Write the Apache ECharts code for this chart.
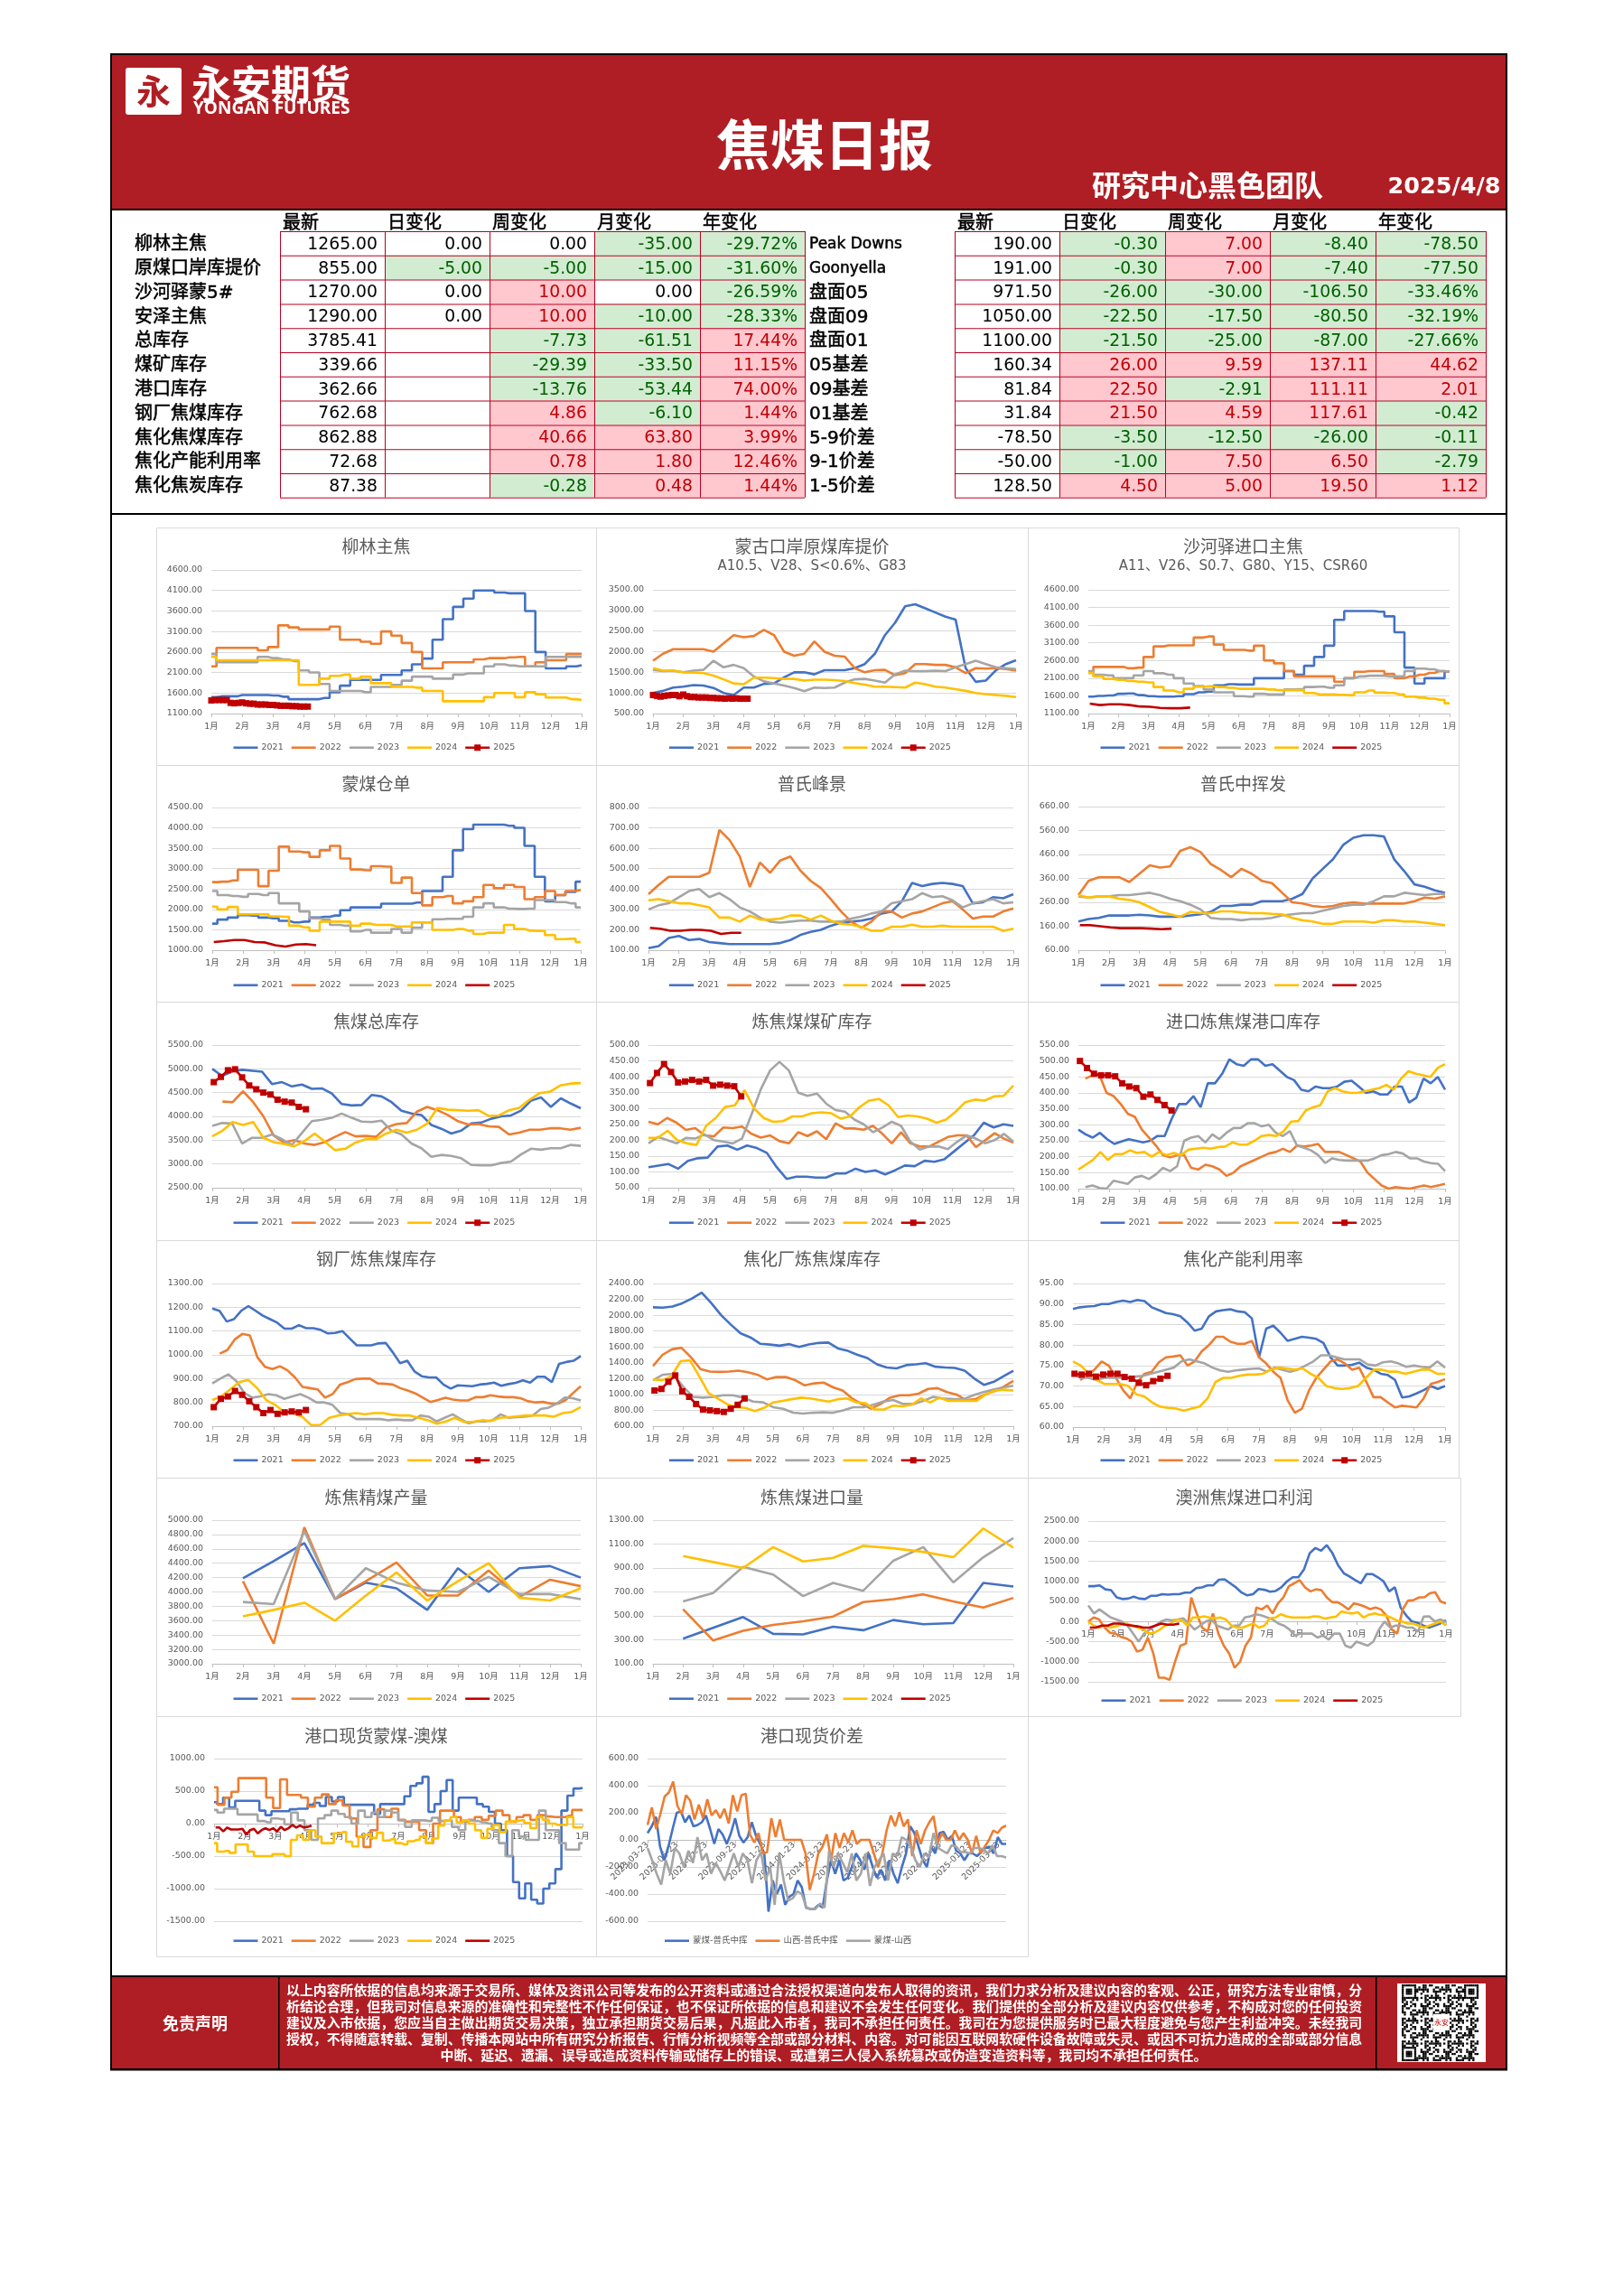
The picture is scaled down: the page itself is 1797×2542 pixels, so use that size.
<!DOCTYPE html>
<html><head><meta charset="utf-8"><title>焦煤日报</title>
<script src="https://cdn.jsdelivr.net/npm/echarts@6/dist/echarts.min.js"></script>
<style>html,body{margin:0;padding:0;background:#fff}#c{width:1797px;height:2542px}</style></head>
<body><div id="c"></div>
<script>
const monthLabels=['1月','2月','3月','4月','5月','6月','7月','8月','9月','10月','11月','12月','1月'];
const dateLabels=['2023-03-23','2023-05-23','2023-07-23','2023-09-23','2023-11-23','2024-01-23','2024-03-23','2024-05-23','2024-07-23','2024-09-23','2024-11-23','2025-01-23','2025-03-23'];
const years=['2021','2022','2023','2024','2025'];
const spreadNames=['蒙煤-普氏中挥','山西-普氏中挥','蒙煤-山西'];

const colHeads=['最新','日变化','周变化','月变化','年变化'];
const leftLabels=['柳林主焦','原煤口岸库提价','沙河驿蒙5#','安泽主焦','总库存','煤矿库存','港口库存','钢厂焦煤库存','焦化焦煤库存','焦化产能利用率','焦化焦炭库存'];
const leftLatest=['1265.00','855.00','1270.00','1290.00','3785.41','339.66','362.66','762.68','862.88','72.68','87.38'];
const leftDay=['0.00','-5.00','0.00','0.00','','','','','','',''];
const leftWeek=['0.00','-5.00','10.00','10.00','-7.73','-29.39','-13.76','4.86','40.66','0.78','-0.28'];
const leftMonth=['-35.00','-15.00','0.00','-10.00','-61.51','-33.50','-53.44','-6.10','63.80','1.80','0.48'];
const leftYear=['-29.72%','-31.60%','-26.59%','-28.33%','17.44%','11.15%','74.00%','1.44%','3.99%','12.46%','1.44%'];
const rightLabels=['Peak Downs','Goonyella','盘面05','盘面09','盘面01','05基差','09基差','01基差','5-9价差','9-1价差','1-5价差'];
const rightLatest=['190.00','191.00','971.50','1050.00','1100.00','160.34','81.84','31.84','-78.50','-50.00','128.50'];
const rightDay=['-0.30','-0.30','-26.00','-22.50','-21.50','26.00','22.50','21.50','-3.50','-1.00','4.50'];
const rightWeek=['7.00','7.00','-30.00','-17.50','-25.00','9.59','-2.91','4.59','-12.50','7.50','5.00'];
const rightMonth=['-8.40','-7.40','-106.50','-80.50','-87.00','137.11','111.11','117.61','-26.00','6.50','19.50'];
const rightYear=['-78.50','-77.50','-33.46%','-32.19%','-27.66%','44.62','2.01','-0.42','-0.11','-2.79','1.12'];

const liulinTicks=[1100,1600,2100,2600,3100,3600,4100,4600];
const liulin2021=[1500,1520,1520,1550,1550,1550,1540,1510,1450,1450,1450,1480,1620,1780,1920,1920,1920,2040,2040,2150,2300,2440,2900,3400,3700,3900,4100,4100,4050,4030,4030,3600,2600,2200,2200,2250,2280];
const liulin2022=[2250,2700,2700,2700,2700,2640,2720,3250,3200,3150,3150,3150,3220,2900,2900,2850,2800,3100,3000,2820,2600,2200,2200,2350,2350,2350,2420,2450,2450,2470,2480,2250,2350,2400,2400,2550,2550];
const liulin2023=[2550,2350,2350,2350,2350,2480,2450,2420,2380,2150,2100,1820,1650,1650,1650,1620,1750,1750,1800,1900,2000,2000,1950,1950,2050,2080,2080,2250,2300,2270,2250,2250,2250,2480,2480,2480,2480];
const liulin2024=[2480,2400,2400,2400,2400,2400,2400,2400,2400,1800,1800,1950,2020,2050,1950,2000,1840,1840,1750,1750,1730,1650,1650,1400,1400,1400,1400,1500,1600,1600,1500,1620,1570,1490,1490,1450,1430];
const liulin2025=[1420,1430,1430,1430,1430,1360,1350,1360,1370,1350,1340,1340,1320,1320,1320,1310,1310,1300,1290,1290,1290,1280,1280,1270,1270,1270];

const mengguTicks=[500,1000,1500,2000,2500,3000,3500];
const menggu2021=[1000,1050,1130,1150,1190,1180,1120,1000,950,1130,1130,1220,1230,1380,1500,1500,1450,1550,1550,1550,1600,1700,1950,2400,2700,3100,3150,3050,2950,2850,2780,1600,1270,1300,1550,1700,1790];
const menggu2022=[1780,1950,2060,2060,2060,2060,2000,2200,2400,2350,2380,2530,2400,2000,1900,1950,2250,2000,1900,1880,1600,1500,1550,1560,1430,1480,1700,1700,1680,1680,1620,1480,1600,1590,1600,1580,1540];
const menggu2023=[1560,1530,1540,1500,1540,1560,1780,1620,1680,1600,1400,1280,1230,1180,1120,1040,1130,1120,1130,1250,1330,1340,1300,1250,1450,1540,1530,1530,1540,1530,1620,1700,1780,1700,1620,1600,1580];
const menggu2024=[1600,1540,1540,1500,1490,1480,1420,1330,1230,1210,1370,1370,1360,1340,1340,1300,1320,1320,1310,1290,1240,1200,1150,1150,1140,1130,1250,1210,1150,1130,1090,1050,1000,970,950,930,900];
const menggu2025=[950,930,910,930,940,950,950,920,960,920,900,900,890,890,890,880,880,870,870,860,870,860,870,860,860,860];

const shaheTicks=[1100,1600,2100,2600,3100,3600,4100,4600];
const shahe2021=[1580,1600,1610,1660,1670,1620,1590,1580,1580,1590,1650,1700,1720,1900,1930,1920,1920,2100,2100,2100,2300,2200,2450,2700,3020,3750,4000,4000,4000,3980,3850,3400,2400,1950,2100,2100,2280];
const shahe2022=[2250,2420,2420,2420,2380,2400,2700,3000,3030,3030,3030,3250,3280,3050,2900,2900,2880,3020,2600,2520,2300,2150,2150,2150,2150,2000,2100,2280,2300,2300,2220,2100,2150,2200,2250,2300,2280];
const shahe2023=[2300,2200,2180,2100,2100,2180,2300,2240,2200,2100,1950,1880,1780,1700,1700,1590,1580,1660,1640,1640,1780,1790,1850,1860,1830,1900,2100,2150,2170,2170,2150,2150,2300,2370,2350,2300,2280];
const shahe2024=[2250,2150,2080,2050,2020,2000,1980,1850,1750,1700,1800,1860,1870,1850,1830,1800,1800,1800,1780,1760,1760,1760,1680,1640,1640,1630,1620,1700,1750,1690,1680,1640,1580,1550,1520,1490,1390];
const shahe2025=[1380,1340,1360,1360,1340,1300,1290,1260,1250,1250,1270];

const cangdanTicks=[1000,1500,2000,2500,3000,3500,4000,4500];
const cangdan2021=[1650,1750,1800,1860,1850,1800,1780,1720,1680,1700,1800,1820,1850,1980,2050,2050,2050,2140,2140,2140,2170,2450,2450,2800,3450,3970,4080,4080,4080,4050,4000,3560,2800,2200,2350,2430,2680];
const cangdan2022=[2670,2680,2710,2970,2970,2570,2950,3540,3420,3400,3290,3450,3560,3250,2980,2960,3060,3050,2650,2780,2400,2100,2300,2330,2150,2200,2300,2600,2520,2600,2550,2250,2300,2450,2350,2450,2480];
const cangdan2023=[2450,2350,2330,2310,2380,2350,2400,2150,2150,1950,1780,1750,1620,1600,1460,1500,1430,1430,1520,1430,1550,1680,1760,1770,1770,1820,2050,2150,2050,2020,2010,2020,2230,2230,2180,2150,2050];
const cangdan2024=[2070,2000,2060,1880,1880,1880,1830,1820,1600,1560,1480,1700,1700,1700,1600,1650,1620,1620,1580,1580,1680,1680,1500,1500,1520,1480,1400,1430,1430,1620,1520,1480,1470,1370,1270,1280,1200];
const cangdan2025=[1200,1220,1250,1250,1200,1190,1120,1090,1140,1150,1120];

const peakTicks=[100,200,300,400,500,600,700,800];
const peak2021=[110,120,160,170,150,155,140,135,130,130,130,130,130,135,150,175,190,200,220,235,240,245,255,280,290,340,430,415,425,430,425,415,330,335,360,355,375];
const peak2022=[375,420,460,460,460,460,480,690,640,560,410,530,480,540,560,490,440,405,350,290,240,210,240,290,290,260,280,290,310,330,340,300,255,265,265,290,305];
const peak2023=[300,320,330,360,390,400,360,380,350,310,290,260,240,235,240,245,245,240,240,240,255,265,280,290,330,340,350,380,360,365,345,310,330,340,350,330,335];
const peak2024=[345,350,340,330,330,320,310,260,260,240,270,250,250,255,270,270,250,270,245,230,225,215,195,195,215,215,225,215,215,220,215,215,215,215,215,195,205];
const peak2025=[210,205,195,195,200,200,195,180,185,185];

const midVolTicks=[60,160,260,360,460,560,660];
const midVol2021=[180,190,195,205,205,205,208,205,200,200,200,205,210,220,245,245,250,250,265,265,265,275,295,360,400,440,500,530,540,540,535,440,390,335,325,310,300];
const midVol2022=[290,350,365,365,365,345,380,415,405,410,475,490,470,420,395,365,400,380,350,340,300,260,255,245,240,245,255,260,255,255,255,255,255,265,280,275,285];
const midVol2023=[285,280,285,285,290,290,295,300,290,275,265,250,230,195,190,190,185,190,190,195,205,210,215,215,225,235,245,250,250,265,285,285,300,295,290,295,295];
const midVol2024=[290,280,285,285,275,270,260,240,220,210,200,220,215,215,222,222,218,215,215,212,210,195,185,180,170,170,180,180,180,175,185,185,180,180,175,170,165];
const midVol2025=[165,165,160,155,152,152,152,150,148,150];

const totalTicks=[2500,3000,3500,4000,4500,5000,5500];
const total2021=[5000,4850,4950,4980,4960,4940,4680,4720,4630,4670,4580,4590,4480,4260,4230,4240,4450,4420,4300,4120,4060,4030,3820,3740,3640,3700,3850,3870,3950,4000,4020,4120,4330,4400,4200,4380,4270,4170];
const total2022=[null,4310,4300,4530,4300,4000,3600,3450,3500,3430,3400,3460,3570,3670,3580,3590,3570,3770,3840,3860,4100,4200,4130,4030,3900,3830,3840,3790,3780,3620,3660,3720,3720,3750,3750,3720,3760];
const total2023=[3800,3860,3850,3430,3550,3550,3620,3520,3400,3650,3900,3930,3970,4060,3970,3890,3880,3910,3700,3620,3430,3330,3150,3190,3170,3120,2980,2970,2970,3020,3050,3200,3320,3300,3330,3330,3400,3380];
const total2024=[3580,3700,3880,3820,3880,3550,3460,3420,3370,3480,3640,3470,3290,3320,3450,3520,3520,3640,3720,3660,3720,3850,4180,4140,4130,4120,4130,4010,4020,4130,4180,4350,4490,4520,4650,4690,4700];
const total2025=[4720,4830,4970,4990,4820,4650,4570,4500,4460,4350,4310,4290,4200,4150];

const mineTicks=[50,100,150,200,250,300,350,400,450,500];
const mine2021=[115,120,125,110,135,143,145,180,183,170,183,175,160,115,78,85,85,82,82,95,95,110,100,105,92,105,120,118,135,132,140,165,190,215,255,240,250,245];
const mine2022=[258,250,270,255,232,238,215,212,240,238,243,220,208,215,197,190,225,213,228,203,253,237,237,233,245,220,190,225,190,180,180,195,210,215,215,178,200,222,205,192];
const mine2023=[190,210,200,190,207,205,218,200,195,190,205,280,360,420,447,420,350,340,347,315,295,290,265,250,225,240,258,245,195,170,180,180,172,195,215,205,190,200,220,195];
const mine2024=[207,208,230,200,190,185,245,270,305,310,358,300,270,258,260,275,275,285,288,285,268,275,305,325,330,310,273,278,275,268,255,265,290,320,328,325,338,340,372];
const mine2025=[380,412,440,415,382,385,390,385,390,372,375,372,370,338];

const portTicks=[100,150,200,250,300,350,400,450,500,550];
const port2021=[285,270,260,275,255,240,248,255,250,245,250,265,265,320,365,365,390,355,430,430,460,505,490,485,505,505,485,490,470,450,440,410,405,420,415,415,420,435,438,420,400,405,395,395,420,420,370,385,445,430,450,410];
const port2022=[null,445,455,455,400,390,365,335,325,285,260,235,205,198,205,205,165,160,175,170,160,140,150,170,180,190,200,210,215,225,215,235,232,235,240,215,215,215,205,195,185,150,130,110,100,105,102,100,105,110,105,110,115];
const port2023=[null,105,110,102,100,125,120,115,135,140,130,145,165,155,170,250,260,265,245,270,255,275,290,290,305,305,295,300,275,265,280,235,228,220,205,180,195,190,188,188,188,188,195,205,208,215,210,195,195,185,180,178,155];
const port2024=[160,175,190,215,190,208,208,220,212,215,200,215,205,212,205,222,225,228,225,230,232,245,238,238,250,265,268,265,280,310,312,345,355,362,405,415,405,400,400,405,410,415,425,410,445,468,460,455,450,478,490];
const port2025=[500,478,460,455,455,452,430,420,415,388,395,378,362,345];

const steelTicks=[700,800,900,1000,1100,1200,1300];
const steel2021=[1195,1185,1140,1150,1185,1205,1185,1165,1150,1135,1110,1110,1125,1112,1112,1105,1090,1092,1100,1070,1040,1040,1040,1048,1050,1010,965,975,930,910,905,905,875,858,872,870,868,875,878,883,870,877,882,893,883,908,908,885,962,970,975,995];
const steel2022=[null,1005,1020,1065,1088,1082,990,950,940,952,935,905,865,860,855,820,835,875,885,898,900,900,880,878,875,860,850,838,820,802,810,820,812,808,808,822,822,830,825,822,822,818,805,800,802,795,795,810,840,868];
const steel2023=[880,900,918,890,840,820,825,835,830,815,825,835,820,800,800,790,755,750,730,730,730,730,725,728,725,725,745,740,720,735,750,730,712,720,720,725,750,735,738,740,745,772,778,795,820,818,808];
const steel2024=[810,825,855,885,895,860,810,790,760,755,740,705,705,735,745,750,755,750,755,755,748,745,745,735,725,710,720,735,718,718,725,722,735,738,742,745,745,745,740,755,760,780];
const steel2025=[780,815,825,848,832,805,780,755,768,752,758,762,758,768];

const cokeryTicks=[600,800,1000,1200,1400,1600,1800,2000,2200,2400];
const cokery2021=[2100,2095,2110,2150,2210,2285,2150,2000,1880,1770,1720,1640,1630,1615,1635,1600,1630,1650,1655,1580,1550,1500,1460,1380,1340,1330,1370,1380,1395,1350,1340,1335,1300,1200,1120,1160,1230,1300];
const cokery2022=[1360,1500,1570,1590,1470,1320,1290,1285,1290,1300,1280,1250,1190,1220,1220,1180,1115,1140,1150,1090,1050,950,880,820,880,960,990,990,1010,1070,1080,1030,1000,930,940,1000,1040,1100,1170];
const cokery2023=[1180,1250,1260,1100,970,960,970,990,990,960,910,900,840,820,770,760,770,775,770,800,840,840,870,910,930,880,880,920,970,950,940,940,990,1030,1060,1090,1110];
const cokery2024=[1190,1180,1230,1420,1430,1230,1020,950,880,840,830,790,830,900,920,940,960,950,930,910,940,950,900,890,810,810,860,850,870,950,900,960,920,920,920,920,1000,1050,1060,1050];
const cokery2025=[1050,1070,1160,1240,1040,970,880,810,800,790,780,820,870,950];

const utilTicks=[60,65,70,75,80,85,90,95];
const util2021=[88.8,89.2,89.4,89.5,90,90,90.5,90.8,90.5,91,90.7,89.2,88.5,87.8,87.5,87,85.5,83.5,84,87,88.2,88.5,88.7,88.2,88,86.5,77,84,84.7,83,81,81.5,82,81.8,81.5,80.5,77,75,75,75.2,75.7,74.5,74,73,72.7,71.5,67.2,67.5,68.2,69,70,69.3,70];
const util2022=[null,71.5,72.5,74,76,75,72,69,67,71,73,73.5,75.8,77,77.2,77.5,75,76,78.5,80,82,82,80.8,80.3,80.3,81,77,75.5,73.5,72,66.5,63.5,64.5,69,72,74,76,76.5,75.5,74,74.5,71,67.3,67.3,66,64.8,65.2,65,64.8,67,70.5,71,71.7];
const util2023=[73,72,72,71.5,72,72,72,72,72.3,72.5,73,73.5,74,74.5,76,76.5,76,75.5,74.5,73.8,73.5,73.8,74,74.2,74.3,73.5,74.5,74,73.5,74,75,76,77.5,77.5,77,76.5,76.5,76.5,75.3,75,75.8,76,75.5,74.7,75,74.7,74.5,76,74.5];
const util2024=[76,75,73,71.5,70.5,70.5,70.5,70,68,67.5,66,65,64.7,64.5,64,64.5,65,67,71,72,72,72.5,72.8,72.8,73,74,74.5,74.3,74,74.3,73,72,70,69.5,69.3,69.5,70,72,74,74,73.5,73.5,73,73.5,74,74,73,73];
const util2025=[73,72.8,73,72.3,72.8,73,73,72.2,71.8,70.8,70.2,71.2,71.8,72.5];

const outputTicks=[3000,3200,3400,3600,3800,4000,4200,4400,4600,4800,5000];
const output2021=[4190,4430,4680,3900,4130,4050,3750,4330,4000,4330,4360,4200];
const output2022=[4150,3280,4900,3900,4150,4410,3950,3950,4300,3930,4170,4080];
const output2023=[3860,3830,4850,3900,4330,4130,4020,4000,4210,3970,3970,3900];
const output2024=[3660,3750,3850,3600,3950,4270,3880,4150,4400,3920,3880,4050];
const output2025=[];

const importTicks=[100,300,500,700,900,1100,1300];
const import2021=[310,400,490,350,345,410,380,465,430,440,775,745];
const import2022=[555,295,375,425,455,495,615,640,680,620,570,650];
const import2023=[620,690,910,845,665,775,710,960,1075,780,990,1150];
const import2024=[1000,950,900,1075,955,985,1085,1065,1035,990,1230,1070];
const import2025=[];

const profitTicks=[-1500,-1000,-500,0,500,1000,1500,2000,2500];
const profit2021=[880,880,900,800,780,600,560,570,620,570,560,640,640,680,670,680,680,720,720,830,850,900,900,1040,1050,950,850,720,650,680,810,790,740,760,850,1000,1100,1100,1300,1700,1830,1760,1900,1700,1400,1200,1120,1030,950,1180,1180,1100,1000,750,850,350,150,0,-30,-100,-150,-100,-50,30];
const profit2022=[0,100,50,-150,-280,-300,-380,-420,-500,-750,-700,-400,-800,-1400,-1400,-1450,-1000,-600,-550,600,200,-150,-250,200,-300,-600,-800,-1150,-1000,-600,-400,350,300,400,200,450,600,880,950,1030,850,750,800,780,600,480,480,400,300,450,420,370,310,350,300,150,-200,-300,300,520,530,600,600,700,730,500,450];
const profit2023=[400,200,300,200,100,50,0,-100,-300,-500,-300,-200,-100,0,50,30,50,80,-50,-200,-100,0,50,-100,-150,-200,-100,-100,100,130,180,150,100,50,-50,-100,-200,-350,-300,-300,-300,-400,-350,-450,-300,-300,-600,-650,-500,-550,-600,-500,-200,0,-150,-100,-100,-150,-150,-250,120,130,0,50,-20];
const profit2024=[0,-100,-150,-100,-150,-120,-80,-50,-100,-150,-200,-300,-280,-200,-100,-50,50,30,-100,100,100,130,100,80,100,50,-100,-150,-150,-100,-50,-150,-100,80,100,180,130,100,100,100,100,130,120,70,100,120,250,220,200,230,100,170,200,170,150,100,30,0,-50,-50,-100,-150,-100,-50,0,-100];
const profit2025=[-150,-150,-100,-100,-50,-50,-80,-100,-120,-150,-150,-100,-50,-80,-80,-50];

const mengaoTicks=[-1500,-1000,-500,0,500,1000];
const mengao2021=[330,300,400,250,350,350,350,350,200,130,190,190,190,220,230,230,290,320,270,410,340,410,290,290,290,290,290,150,300,300,300,300,420,580,620,720,180,300,500,670,200,400,400,400,300,260,180,0,-100,-500,-900,-1150,-920,-1170,-1230,-1000,-920,-700,200,430,540,550];
const mengao2022=[560,290,400,490,700,700,700,700,400,240,680,440,440,400,260,400,450,300,360,280,80,-200,-360,-100,220,100,230,60,30,30,-100,-300,0,200,200,100,30,60,100,60,120,200,130,30,100,130,60,130,110,100,100,120,210,210];
const mengao2023=[210,170,230,230,140,140,140,40,20,80,70,-10,170,50,-100,-250,80,130,200,150,100,0,200,100,170,100,200,170,50,-50,50,50,40,90,40,50,-50,-100,50,40,20,0,-100,-300,-500,-100,-200,-250,-250,200,-100,-100,-300,-400,-400,-300];
const mengao2024=[-300,-430,-420,-450,-320,-320,-430,-500,-500,-500,-470,-470,-500,-250,-180,-250,-100,-200,-300,-300,-150,-130,-280,-350,-200,-170,-220,-140,-260,-240,-300,-320,-270,-250,-200,-300,-230,-30,50,100,20,50,0,-100,-220,-80,-20,-130,30,40,50,10,-70,100,60,0,-20,-20,100,-60,-60];
const mengao2025=[-60,-60,-120,-60,-90,-90,-90,-80,-170,-100,-80,-150,-100,-70,-100,-70,-120,-50,-100,-70,-20,-60,-30,-60,-50,-30];

const spreadTicks=[-600,-400,-200,0,200,400,600];
const spreadMengPu=[50,100,170,-50,-150,-50,80,200,210,130,180,100,110,130,180,80,-30,80,40,-30,50,160,30,-20,20,130,30,-30,-100,-530,-300,-400,-330,-480,-420,-400,-300,-350,-500,-510,-510,-480,-500,-300,-150,-250,-150,-300,-280,-200,-100,-150,-220,-100,-200,-280,-220,-300,-150,-250,-320,-200,-100,100,50,-50,-150,-200,-50,-100,50,60,0,30,-80,-100,-150,-100,-100,-120,-90,-60,-50,-100,20,-30,-30];
const spreadShanPu=[110,240,80,190,320,350,430,250,190,330,290,150,260,160,300,180,220,160,230,120,330,210,330,340,40,-20,50,-100,-90,160,20,150,0,0,0,0,0,-100,-370,-250,-100,-50,40,-150,50,-60,50,-20,70,-30,0,0,0,-100,-200,-100,70,180,100,205,100,150,-120,70,-30,70,130,175,-20,50,0,0,70,0,50,0,-100,30,-100,-50,0,70,50,90,105];
const spreadMengShan=[-60,-150,-250,-330,-150,-250,-60,-100,-200,-80,-170,20,-150,-100,-250,-170,-230,-300,-200,-100,-200,-100,-150,-320,-150,-90,-300,-200,-480,-100,-300,-450,-430,-380,-400,-500,-510,-510,-470,-500,-80,-200,-100,-170,-240,-100,-300,-250,-100,-340,-200,-150,-100,-300,-100,-120,20,0,-50,-150,-200,-100,-130,50,-60,-80,-100,-40,-50,-90,-90,-100,-60,-60,-70,-100,-40,-120,-120,-130];

const disclaimerLines=[
'以上内容所依据的信息均来源于交易所、媒体及资讯公司等发布的公开资料或通过合法授权渠道向发布人取得的资讯，我们力求分析及建议内容的客观、公正，研究方法专业审慎，分',
'析结论合理，但我司对信息来源的准确性和完整性不作任何保证，也不保证所依据的信息和建议不会发生任何变化。我们提供的全部分析及建议内容仅供参考，不构成对您的任何投资',
'建议及入市依据，您应当自主做出期货交易决策，独立承担期货交易后果，凡据此入市者，我司不承担任何责任。我司在为您提供服务时已最大程度避免与您产生利益冲突。未经我司',
'授权，不得随意转载、复制、传播本网站中所有研究分析报告、行情分析视频等全部或部分材料、内容。对可能因互联网软硬件设备故障或失灵、或因不可抗力造成的全部或部分信息',
'中断、延迟、遗漏、误导或造成资料传输或储存上的错误、或遭第三人侵入系统篡改或伪造变造资料等，我司均不承担任何责任。'];

/* ---------- layout ---------- */
const WEEK=12/52, THIRD=1/3, DENSE=1/8;
const CJK='"Noto Sans CJK SC"', NUM='"DejaVu Sans","Noto Sans CJK SC"';
const RED='#AF1E24';
const yearColors=['#4472C4','#ED7D31','#A5A5A5','#FFC000','#C00000'];
const LINE='path://M0 0L0 0M27 7L27 7M0 2.2H27V4.8H0Z';
const MARK='path://M0 0L0 0M27 7L27 7M0 2.2H10V0H17V2.2H27V4.8H17V7H10V4.8H0Z';

const charts=[
{t:'柳林主焦',p:[173,584,660,847],g:[234,644,631,790],ty:605,ly:829,ticks:liulinTicks,s:[liulin2021,liulin2022,liulin2023,liulin2024,liulin2025],st:DENSE,x0:0,m:7,stepped:true},
{t:'蒙古口岸原煤库提价',sub:'A10.5、V28、S<0.6%、G83',p:[660,584,1138,847],g:[723,1125,653,790],ty:605,ly:829,ticks:mengguTicks,s:[menggu2021,menggu2022,menggu2023,menggu2024,menggu2025],st:DENSE,x0:0,m:7},
{t:'沙河驿进口主焦',sub:'A11、V26、S0.7、G80、Y15、CSR60',p:[1138,584,1615,847],g:[1205,1605,653,790],ty:605,ly:829,ticks:shaheTicks,s:[shahe2021,shahe2022,shahe2023,shahe2024,shahe2025],st:THIRD,x0:0.05,stepped:true},
{t:'蒙煤仓单',p:[173,847,660,1109],g:[235,643,894,1052],ty:868,ly:1092,ticks:cangdanTicks,s:[cangdan2021,cangdan2022,cangdan2023,cangdan2024,cangdan2025],st:THIRD,x0:0.05,stepped:true},
{t:'普氏峰景',p:[660,847,1138,1109],g:[718,1122,894,1052],ty:868,ly:1092,ticks:peakTicks,s:[peak2021,peak2022,peak2023,peak2024,peak2025],st:THIRD,x0:0.05},
{t:'普氏中挥发',p:[1138,847,1615,1109],g:[1194,1600,893,1052],ty:868,ly:1092,ticks:midVolTicks,s:[midVol2021,midVol2022,midVol2023,midVol2024,midVol2025],st:THIRD,x0:0.05},
{t:'焦煤总库存',p:[173,1109,660,1373],g:[235,643,1157,1315],ty:1131,ly:1355,ticks:totalTicks,s:[total2021,total2022,total2023,total2024,total2025],st:WEEK,x0:0.05,m:7},
{t:'炼焦煤煤矿库存',p:[660,1109,1138,1373],g:[718,1122,1157,1315],ty:1131,ly:1355,ticks:mineTicks,s:[mine2021,mine2022,mine2023,mine2024,mine2025],st:WEEK,x0:0.05,m:7},
{t:'进口炼焦煤港口库存',p:[1138,1109,1615,1373],g:[1194,1600,1157,1316],ty:1131,ly:1355,ticks:portTicks,s:[port2021,port2022,port2023,port2024,port2025],st:WEEK,x0:0.05,m:7},
{t:'钢厂炼焦煤库存',p:[173,1373,660,1636],g:[235,643,1421,1579],ty:1394,ly:1618,ticks:steelTicks,s:[steel2021,steel2022,steel2023,steel2024,steel2025],st:WEEK,x0:0.05,m:7},
{t:'焦化厂炼焦煤库存',p:[660,1373,1138,1636],g:[723,1122,1421,1579],ty:1394,ly:1618,ticks:cokeryTicks,s:[cokery2021,cokery2022,cokery2023,cokery2024,cokery2025],st:WEEK,x0:0.05,m:7},
{t:'焦化产能利用率',p:[1138,1373,1615,1636],g:[1188,1600,1421,1580],ty:1394,ly:1618,ticks:utilTicks,s:[util2021,util2022,util2023,util2024,util2025],st:WEEK,x0:0.05,m:7},
{t:'炼焦精煤产量',p:[173,1636,660,1900],g:[235,643,1683,1842],ty:1658,ly:1882,ticks:outputTicks,s:[output2021,output2022,output2023,output2024,output2025],monthly:true},
{t:'炼焦煤进口量',p:[660,1636,1138,1900],g:[723,1122,1683,1842],ty:1658,ly:1882,ticks:importTicks,s:[import2021,import2022,import2023,import2024,import2025],monthly:true},
{t:'澳洲焦煤进口利润',p:[1138,1636,1617,1900],g:[1205,1601,1684,1862],ty:1658,ly:1884,ticks:profitTicks,s:[profit2021,profit2022,profit2023,profit2024,profit2025],st:0.2,x0:0.05},
{t:'港口现货蒙煤-澳煤',p:[173,1900,660,2166],g:[237,645,1947,2127],ty:1922,ly:2150,ticks:mengaoTicks,s:[mengao2021,mengao2022,mengao2023,mengao2024,mengao2025],st:DENSE,x0:0.05,stepped:true},
{t:'港口现货价差',p:[660,1900,1138,2166],g:[717,1114,1947,2127],ty:1922,ly:2150,ticks:spreadTicks,s:[spreadMengPu,spreadShanPu,spreadMengShan],spread:true}
];

const axisFont={fontFamily:NUM,fontSize:9.5,color:'#595959'};
const grids=[],xAxes=[],yAxes=[],series=[],titles=[],legends=[],gfx=[];

charts.forEach((c,i)=>{
  const [l,r,t,b]=c.g, cx=(c.p[0]+c.p[2])/2;
  const yMin=c.ticks[0], yMax=c.ticks[c.ticks.length-1];
  const zeroLift=yMin<0?(b-t)*(-yMin)/(yMax-yMin):0;
  grids.push({left:l,top:t,width:r-l,height:b-t,containLabel:false});
  const xMax=c.spread?12.25:12, labels=c.spread?dateLabels:monthLabels;
  xAxes.push({type:'value',gridIndex:i,min:0,max:xMax,interval:1,offset:-zeroLift,splitLine:{show:false},
    axisLine:{onZero:false,lineStyle:{color:'#BFBFBF',width:1}},axisTick:{show:true,length:4,lineStyle:{color:'#BFBFBF'}},
    axisLabel:Object.assign({},axisFont,{margin:c.spread?4:10,rotate:c.spread?45:0,hideOverlap:false,showMinLabel:true,showMaxLabel:!c.spread,
      formatter:v=>labels[Math.round(v)]||''})});
  yAxes.push({type:'value',gridIndex:i,min:yMin,max:yMax,
    axisLine:{show:false,onZero:false},axisTick:{show:false,customValues:c.ticks},
    splitLine:{show:true,lineStyle:{color:'#D9D9D9',width:1}},
    axisLabel:Object.assign({},axisFont,{margin:10,customValues:c.ticks,formatter:v=>Number(v).toFixed(2)})});
  const names=c.spread?spreadNames:years;
  c.s.forEach((vals,k)=>{
    const isPartial=!c.spread&&!c.monthly&&k===4;
    const start=c.monthly?1:(isPartial?c.x0:0);
    const step=c.monthly?1:(isPartial?c.st:(c.spread?xMax:12)/(vals.length-1));
    series.push({type:'line',name:names[k],xAxisIndex:i,yAxisIndex:i,animation:false,silent:true,
      step:(c.stepped&&!isPartial)?'middle':false,
      data:vals.map((v,j)=>[start+j*step,v]),
      showSymbol:!!(isPartial&&c.m),symbol:'rect',symbolSize:c.m||0,
      lineStyle:{width:2.6,color:yearColors[k]},itemStyle:{color:yearColors[k]}});
  });
  titles.push({text:c.t,subtext:c.sub||'',left:cx,top:c.ty-10,textAlign:'center',padding:0,itemGap:6,
    textStyle:{fontFamily:CJK,fontSize:19,fontWeight:'normal',color:'#595959'},
    subtextStyle:{fontFamily:NUM,fontSize:15,color:'#595959'}});
  const ld=names.map((n,k)=>({name:n,icon:(k===4&&c.m)?MARK:LINE}));
  const lw=c.spread?326:316;
  legends.push({show:true,orient:'horizontal',left:cx-lw/2,top:c.ly-6,itemWidth:27,itemHeight:7,itemGap:9,padding:0,
    selectedMode:false,data:ld,textStyle:{fontFamily:NUM,fontSize:9.5,color:'#595959',padding:[0,0,0,-1]}});
  gfx.push({type:'rect',silent:true,z:-5,shape:{x:c.p[0]+.5,y:c.p[1]+.5,width:c.p[2]-c.p[0],height:c.p[3]-c.p[1]},style:{fill:'none',stroke:'#D9D9D9',lineWidth:1}});
});

const rect=(x,y,w,h,fill)=>({type:'rect',silent:true,z:-8,shape:{x,y,width:w,height:h},style:{fill}});
const text=(x,y,s,font,fill,align)=>({type:'text',silent:true,z:-2,x,y,style:{text:s,font,fill:fill||'#000',textAlign:align||'left',textVerticalAlign:'middle'}});
const mediumText=(x,y,s,font)=>{const e=text(x,y,s,font,'#000');e.style.stroke='#000';e.style.lineWidth=0.5;return e;};

/* header */
const FL=123,FR=1668,FT=60,FB=2291;
gfx.push(rect(FL,FT,FR-FL,232-FT,RED));
gfx.push({type:'rect',silent:true,z:-7,shape:{x:139,y:75,width:62,height:52,r:3},style:{fill:'#fff'}});
gfx.push(text(170,101,'永',`bold 38px ${CJK}`,RED,'center'));
gfx.push(text(212,93,'永安期货',`bold 44px ${CJK}`,'#fff'));
gfx.push(text(214,121,'YONGAN FUTURES','bold 19px "Open Sans"','#fff'));
gfx.push(text(913,160,'焦煤日报',`bold 60px ${CJK}`,'#fff','center'));
gfx.push(text(1337,205,'研究中心黑色团队',`bold 32px ${CJK}`,'#fff','center'));
gfx.push(text(1599,207,'2025/4/8','bold 25.5px "DejaVu Sans"','#fff','center'));

/* tables */
function drawTable(cols,labels,labelX,cells){
  const top=256,rh=26.8;
  colHeads.forEach((h,k)=>gfx.push(mediumText(cols[k]+3,245,h,`20px ${CJK}`)));
  labels.forEach((lb,r)=>{
    const y=top+r*rh;
    const latin=/^[A-Z]/.test(lb);
    gfx.push(mediumText(labelX,y+rh/2+1.5,lb,latin?'17px "DejaVu Sans"':`20px "DejaVu Sans",${CJK}`));
    cells.forEach((col,k)=>{
      const v=col[r], x=cols[k], w=cols[k+1]-cols[k];
      const n=parseFloat(v);
      const tone=k===0||v===''||n===0?0:(n>0?1:-1);
      if(tone) gfx.push(rect(x,y,w,rh,tone>0?'#FFC7CE':'#D2ECD2'));
      if(v!=='') gfx.push(text(x+w-8,y+rh/2+1.5,v,'18.8px "DejaVu Sans"',tone>0?'#C00006':tone<0?'#006100':'#000','right'));
    });
  });
  const L={type:'rect',silent:true,z:-6};
  for(let r=0;r<=11;r++) gfx.push(Object.assign({},L,{shape:{x:cols[0],y:top+r*rh,width:cols[5]-cols[0],height:1},style:{fill:'#B80020'}}));
  cols.forEach(x=>gfx.push(Object.assign({},L,{shape:{x:x,y:top,width:1,height:11*rh},style:{fill:'#B80020'}})));
}
drawTable([310,426,542,658,775,891],leftLabels,149,[leftLatest,leftDay,leftWeek,leftMonth,leftYear]);
drawTable([1057,1173,1290,1406,1523,1645],rightLabels,896,[rightLatest,rightDay,rightWeek,rightMonth,rightYear]);

/* footer */
gfx.push(rect(FL,2188,FR-FL,FB-2188,RED));
gfx.push(text(216,2240,'免责声明',`bold 18px ${CJK}`,'#fff','center'));
disclaimerLines.forEach((s,i)=>gfx.push(text(i<4?317:912,2203+i*18,s,`bold 14.9px ${CJK}`,'#fff',i<4?'left':'center')));
gfx.push(rect(1547,2196,98,87,'#fff'));
/* decorative QR-style block in the footer */
const QN=37,qm=2.3,qx=1552,qy=2197;
const finder=(a,b)=>{const da=a<7?a:(a>=QN-7?a-(QN-7):-1),db=b<7?b:(b>=QN-7?b-(QN-7):-1);
  if(da<0||db<0||(a>=QN-7&&b>=QN-7))return null;
  return da===0||da===6||db===0||db===6||(da>=2&&da<=4&&db>=2&&db<=4);};
for(let a=0;a<QN;a++)for(let b=0;b<QN;b++){
  const f=finder(a,b);
  const on=f===null?((a*a*3+b*b*5+a*b*7+a+b)%11<5):f;
  if(on)gfx.push(rect(qx+b*qm,qy+a*qm,qm,qm,'#000'));
}
gfx.push(Object.assign(rect(1587,2230,18,18,'#fff'),{z:-3}));
gfx.push(text(1596,2239,'永安',`8px ${CJK}`,'#C00000','center'));

/* frame + dividers */
const bar=(x,y,w,h)=>Object.assign(rect(x,y,w,h,'#000'),{z:-1});
gfx.push(bar(FL-1,FT-1,FR-FL+2,2),bar(FL-1,FB-1,FR-FL+2,2.5),bar(FL-1,FT-1,2,FB-FT+2),bar(FR-1,FT-1,2,FB-FT+2));
gfx.push(bar(FL,231,FR-FL,2),bar(FL,568,FR-FL,2),bar(FL,2187,FR-FL,2),bar(308,2188,1.5,FB-2188),bar(1523,2188,1.5,FB-2188));

const chart=echarts.init(document.getElementById('c'),null,{width:1797,height:2542});
chart.setOption({animation:false,backgroundColor:'#fff',tooltip:{show:false},
  grid:grids,xAxis:xAxes,yAxis:yAxes,series,title:titles,legend:legends,graphic:{elements:gfx}});
</script></body></html>
